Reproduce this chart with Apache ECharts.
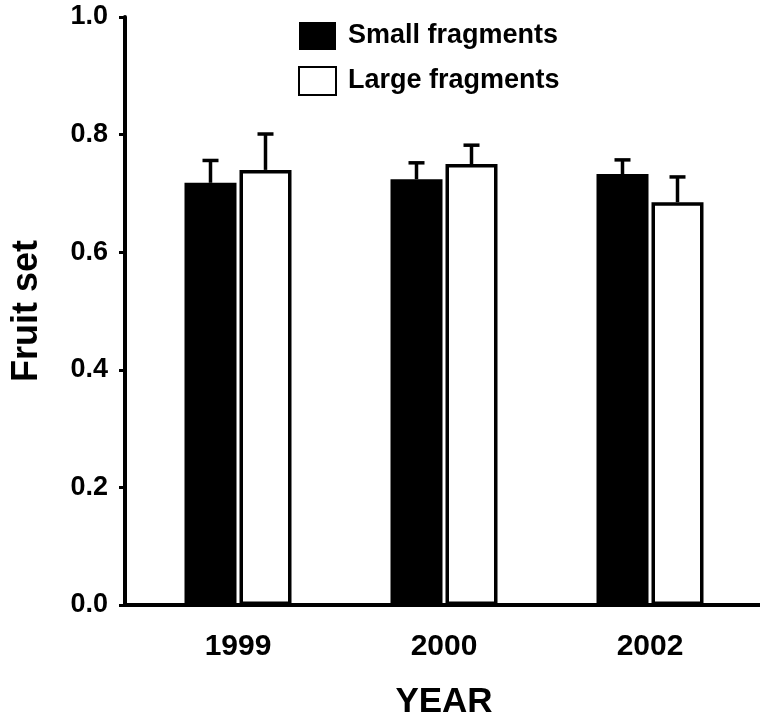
<!DOCTYPE html>
<html>
<head>
<meta charset="utf-8">
<script src="https://cdn.jsdelivr.net/npm/echarts@6/dist/echarts.min.js"></script>
<style>
  html, body { margin: 0; padding: 0; background: #fff; }
  #chart { width: 760px; height: 716px; }
</style>
</head>
<body>
<div id="chart"></div>
<script>
// values
const years = ['1999', '2000', '2002'];
const smallMean = [0.718, 0.724, 0.733];
const smallErr = [0.756, 0.752, 0.757];
const largeMean = [0.740, 0.750, 0.685];
const largeErr = [0.801, 0.782, 0.728];
const yTicks = [0, 0.2, 0.4, 0.6, 0.8, 1.0];

const font = 'Liberation Sans, Arial, sans-serif';
const BW = 52, GAP = 3;
const chart = echarts.init(document.getElementById('chart'));

// one-sided error bar, drawn upward from the bar top
function errorRender(seriesIdx) {
    return function (params, api) {
        const i = api.value(0);
        const top = api.coord([i, api.value(2)]);
        const base = api.coord([i, api.value(1)]);
        const x = top[0] + (seriesIdx === 0 ? -(BW + GAP) / 2 : (BW + GAP) / 2);
        const half = 8;
        const style = { stroke: '#000', lineWidth: 3.5 };
        return {
            type: 'group',
            children: [
                { type: 'line', shape: { x1: x, y1: base[1], x2: x, y2: top[1] }, style },
                { type: 'line', shape: { x1: x - half, y1: top[1], x2: x + half, y2: top[1] }, style }
            ]
        };
    };
}

const option = {
    animation: false,
    grid: [
        { left: 135, right: 7, top: 17, bottom: 111, outerBoundsMode: 'none' },
        { left: 125, right: 0, top: 17, bottom: 111, outerBoundsMode: 'none' }
    ],
    legend: {
        orient: 'vertical',
        left: 293,
        top: 17,
        icon: 'rect',
        itemWidth: 37,
        itemHeight: 28,
        itemGap: 16,
        data: ['Small fragments', 'Large fragments'],
        textStyle: { fontFamily: font, fontSize: 27, fontWeight: 'bold', color: '#000', padding: [0, 0, 0, 7] }
    },
    xAxis: [
        {
            type: 'category',
            data: years,
            name: 'YEAR',
            nameLocation: 'middle',
            nameGap: 80,
            nameTextStyle: { fontFamily: font, fontSize: 35, fontWeight: 'bold', color: '#000' },
            axisLine: { show: false },
            axisTick: { show: false },
            axisLabel: { margin: 27, fontFamily: font, fontSize: 30, fontWeight: 'bold', color: '#000' }
        },
        {
            // baseline that runs from the y axis to the right edge
            gridIndex: 1,
            type: 'value',
            min: 0,
            max: 1,
            axisLine: { show: true, onZero: false, lineStyle: { color: '#000', width: 4 } },
            axisTick: { show: false },
            axisLabel: { show: false },
            splitLine: { show: false }
        }
    ],
    yAxis: [
        {
            type: 'value',
            min: 0,
            max: 1,
            interval: 0.2,
            offset: 10,
            name: 'Fruit set',
            nameLocation: 'middle',
            nameGap: 80,
            nameTextStyle: { fontFamily: font, fontSize: 36, fontWeight: 'bold', color: '#000' },
            splitLine: { show: false },
            axisLine: { show: true, lineStyle: { color: '#000', width: 4 } },
            axisTick: { show: true, length: 6, lineStyle: { color: '#000', width: 3 } },
            axisLabel: {
                margin: 17,
                fontFamily: font, fontSize: 27, fontWeight: 'bold', color: '#000',
                formatter: v => yTicks.includes(+v.toFixed(1)) ? v.toFixed(1) : ''
            }
        },
        { gridIndex: 1, type: 'value', show: false }
    ],
    series: [
        {
            name: 'Small fragments',
            type: 'bar',
            data: smallMean,
            barWidth: BW,
            barGap: (GAP / BW * 100) + '%',
            itemStyle: { color: '#000', borderColor: '#000', borderWidth: 0 }
        },
        {
            name: 'Large fragments',
            type: 'bar',
            data: largeMean,
            barWidth: BW,
            barGap: (GAP / BW * 100) + '%',
            itemStyle: { color: '#fff', borderColor: '#000', borderWidth: 3.5 }
        },
        {
            type: 'custom',
            renderItem: errorRender(0),
            data: years.map((y, i) => [i, smallMean[i], smallErr[i]]),
            z: 1
        },
        {
            type: 'custom',
            renderItem: errorRender(1),
            data: years.map((y, i) => [i, largeMean[i], largeErr[i]]),
            z: 1
        }
    ]
};
chart.setOption(option);
</script>
</body>
</html>
